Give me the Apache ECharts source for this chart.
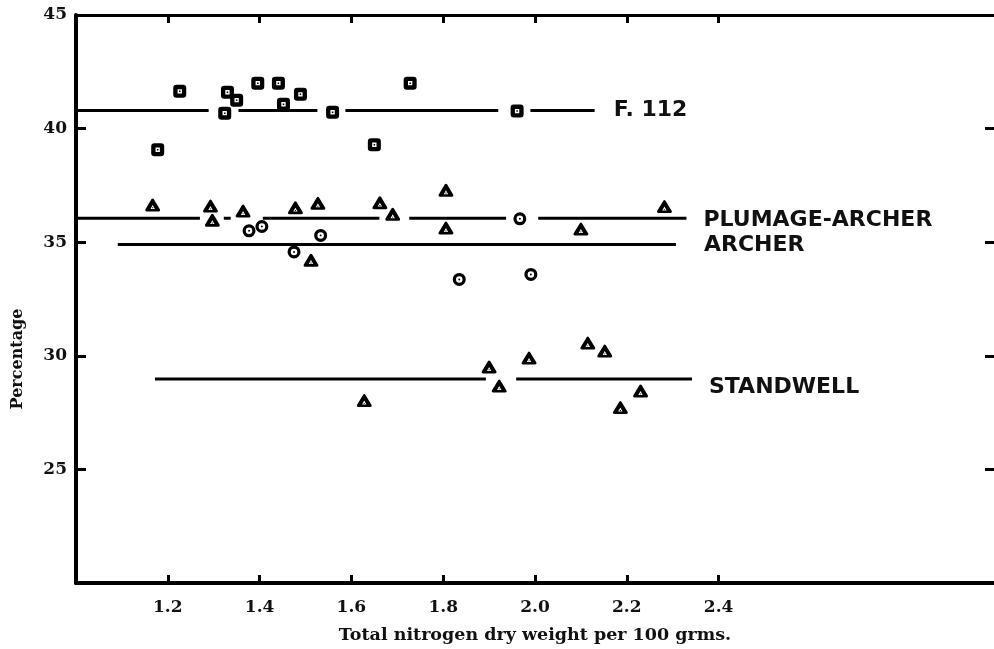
<!DOCTYPE html>
<html>
<head>
<meta charset="utf-8">
<script src="https://cdn.jsdelivr.net/npm/echarts@6/dist/echarts.min.js"></script>
<style>
html,body{margin:0;padding:0;background:#fff;}
#chart{width:994px;height:649px;}
</style>
</head>
<body>
<div id="chart"></div>
<script>
// Tick values
const xTickValues = [1.2, 1.4, 1.6, 1.8, 2.0, 2.2, 2.4];
const yTickValues = [25, 30, 35, 40];
const yLabelValues = [25, 30, 35, 40, 45];

// F. 112 (squares)
const f112X = [1.226, 1.178, 1.330, 1.350, 1.324, 1.396, 1.441, 1.452, 1.489, 1.559, 1.728, 1.650, 1.961];
const f112Y = [41.64, 39.07, 41.60, 41.25, 40.68, 42.00, 42.00, 41.07, 41.51, 40.72, 42.00, 39.29, 40.77];
const f112Mean = 40.8;
const f112Segments = [[1.0, 1.289], [1.354, 1.526], [1.587, 1.920], [1.990, 2.130]];

// Plumage-Archer (triangles)
const plumX = [1.167, 1.293, 1.297, 1.364, 1.478, 1.527, 1.662, 1.690, 1.806, 1.806, 2.100, 2.282, 1.512];
const plumY = [36.64, 36.59, 35.97, 36.37, 36.52, 36.71, 36.74, 36.23, 37.29, 35.62, 35.58, 36.57, 34.21];
const plumMean = 36.05;
const plumSegments = [[1.0, 1.270], [1.322, 1.337], [1.407, 1.661], [1.726, 1.937], [2.007, 2.330]];

// Archer (circles)
const archerX = [1.377, 1.405, 1.533, 1.475, 1.967, 1.835, 1.991];
const archerY = [35.50, 35.69, 35.30, 34.57, 36.03, 33.36, 33.58];
const archerMean = 34.9;
const archerSegments = [[1.091, 2.307]];

// Standwell (triangles)
const standX = [1.628, 1.900, 1.922, 1.987, 2.115, 2.152, 2.230, 2.186];
const standY = [28.03, 29.51, 28.67, 29.90, 30.56, 30.21, 28.45, 27.72];
const standMean = 28.98;
const standSegments = [[1.172, 1.893], [1.959, 2.342]];

const zip = (xs, ys) => xs.map((x, i) => [x, ys[i]]);

// marker glyphs: black outline with a small white hole (and centre dot)
const squareGlyph = 'path://M3,0 H9 Q12,0 12,3 V9 Q12,12 9,12 H3 Q0,12 0,9 V3 Q0,0 3,0 Z M4,4 V8 H8 V4 Z M5.3,5.3 H6.7 V6.7 H5.3 Z';
const triangleGlyph = 'path://M6,0.8 Q7,-0.3 8,0.8 L13.7,10.2 Q14.3,12 12.5,12 H1.5 Q-0.3,12 0.3,10.2 Z M7,6.1 L5,9.7 H9 Z M6.5,8.3 H7.5 V9.1 H6.5 Z';
const circleGlyph = 'path://M0,6 A6,6 0 1,1 12,6 A6,6 0 1,1 0,6 Z M3,6 A3,3 0 1,0 9,6 A3,3 0 1,0 3,6 Z M5.1,6 A0.9,0.9 0 1,1 6.9,6 A0.9,0.9 0 1,1 5.1,6 Z';

const labelFont = {fontFamily: 'DejaVu Sans', fontWeight: 'bold', fontSize: 22, color: '#111'};
const tickFont = {fontFamily: 'DejaVu Serif', fontWeight: 'bold', fontSize: 17, color: '#111'};

function meanLines(name, mean, segments, distance, offset) {
  return segments.map((seg, i) => {
    const s = {
      name: name,
      type: 'line',
      data: [[seg[0], mean], [seg[1], mean]],
      symbol: 'none',
      silent: true,
      z: 2,
      lineStyle: {color: '#000', width: 3},
      animation: false
    };
    if (i === segments.length - 1) {
      s.endLabel = Object.assign({show: true, formatter: name, distance: distance, offset: offset}, labelFont);
    }
    return s;
  });
}

function markers(name, data, symbol, size) {
  return {
    name: name,
    type: 'scatter',
    data: data,
    symbol: symbol,
    symbolSize: size,
    z: 5,
    itemStyle: {color: '#000', opacity: 1},
    animation: false
  };
}

const chart = echarts.init(document.getElementById('chart'));
const option = {
  backgroundColor: '#fff',
  animation: false,
  grid: {left: 76, right: 0, top: 15, bottom: 61, containLabel: false},
  xAxis: [{
    type: 'value', position: 'bottom', min: 1.0, max: 3.0, interval: 0.2,
    axisLine: {show: true, onZero: false, lineStyle: {color: '#000', width: 4}},
    axisTick: {show: true, inside: true, length: 8, customValues: xTickValues, lineStyle: {color: '#000', width: 3}},
    axisLabel: Object.assign({show: true, customValues: xTickValues, formatter: v => Number(v).toFixed(1), margin: 16}, tickFont),
    splitLine: {show: false},
    name: 'Total nitrogen dry weight per 100 grms.', nameLocation: 'middle', nameGap: 43,
    nameTextStyle: {fontFamily: 'DejaVu Serif', fontWeight: 'bold', fontSize: 17.5, color: '#111'}
  }, {
    type: 'value', position: 'top', min: 1.0, max: 3.0, interval: 0.2,
    axisLine: {show: true, onZero: false, lineStyle: {color: '#000', width: 3}},
    axisTick: {show: true, inside: true, length: 8, customValues: xTickValues, lineStyle: {color: '#000', width: 3}},
    axisLabel: {show: false},
    splitLine: {show: false}
  }],
  yAxis: [{
    type: 'value', position: 'left', min: 20, max: 45, interval: 5,
    axisLine: {show: true, onZero: false, lineStyle: {color: '#000', width: 4}},
    axisTick: {show: true, inside: true, length: 10, customValues: yTickValues, lineStyle: {color: '#000', width: 3}},
    axisLabel: Object.assign({show: true, customValues: yLabelValues, margin: 9}, tickFont),
    splitLine: {show: false},
    name: 'Percentage', nameLocation: 'middle', nameGap: 50,
    nameTextStyle: {fontFamily: 'DejaVu Serif', fontWeight: 'bold', fontSize: 16, color: '#111', padding: [0, 120, 0, 0]}
  }, {
    type: 'value', position: 'right', min: 20, max: 45, interval: 5,
    axisLine: {show: true, onZero: false, lineStyle: {color: 'rgba(0,0,0,0)', width: 1}},
    axisTick: {show: true, inside: true, length: 9, customValues: yTickValues, lineStyle: {color: '#000', width: 3}},
    axisLabel: {show: false},
    splitLine: {show: false}
  }],
  series: [].concat(
    meanLines('F. 112', f112Mean, f112Segments, 19, [0, 0]),
    meanLines('PLUMAGE-ARCHER', plumMean, plumSegments, 17, [0, 2]),
    meanLines('ARCHER', archerMean, archerSegments, 28, [0, 1]),
    meanLines('STANDWELL', standMean, standSegments, 17, [0, 8]),
    [
      markers('F. 112', zip(f112X, f112Y), squareGlyph, 13),
      markers('PLUMAGE-ARCHER', zip(plumX, plumY), triangleGlyph, [15, 13]),
      markers('ARCHER', zip(archerX, archerY), circleGlyph, 13),
      markers('STANDWELL', zip(standX, standY), triangleGlyph, [15, 13])
    ]
  )
};
chart.setOption(option);
</script>
</body>
</html>
